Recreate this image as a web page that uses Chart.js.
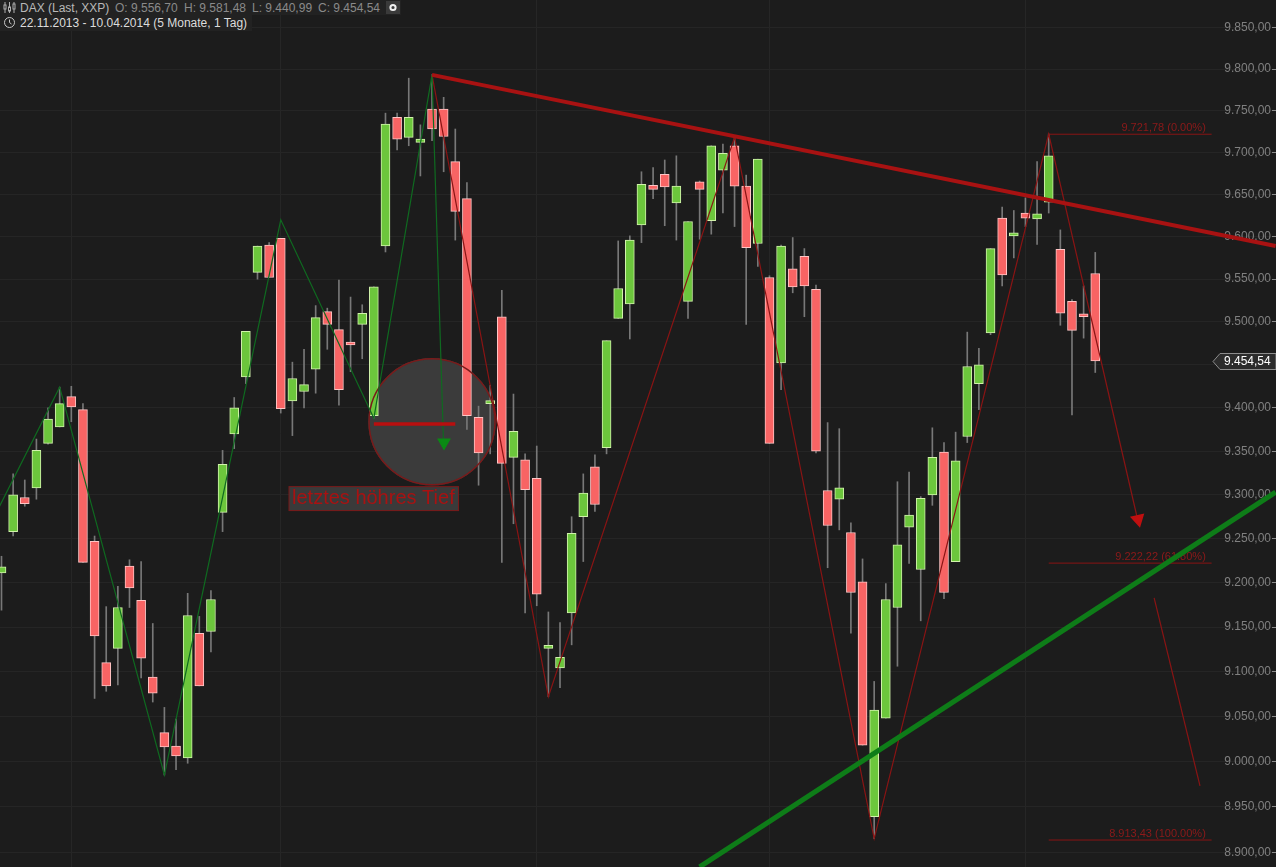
<!DOCTYPE html>
<html>
<head>
<meta charset="utf-8">
<title>DAX</title>
<script src="https://cdn.jsdelivr.net/npm/chart.js@4/dist/chart.umd.min.js"></script>
<style>
    html, body { margin: 0; padding: 0; background: #1c1c1c; overflow: hidden; }
    #wrap { position: relative; width: 1276px; height: 867px; font-family: "Liberation Sans", Arial, sans-serif; font-size: 12px; }
    #head1, #head2 { position: absolute; left: 0; background: #222222; white-space: nowrap; }
    #head1 { top: 0; width: 401px; height: 15px; }
    #head2 { top: 15px; width: 252px; height: 16px; color: #dcdcdc; }
    #head1 span, #head2 span { position: absolute; top: 1px; }
    .grey { color: #8a8a8a; }
    #head1 svg, #head2 svg { position: absolute; top: 1px; left: 3px; }
    #lastTag { position: absolute; left: 1212px; top: 352px; }
    #lastText { position: absolute; left: 1224px; top: 354px; color: #ffffff; }
</style>
</head>
<body>
<div id="wrap">
    <canvas id="daxChart"></canvas>
    <div id="head1">
        <svg width="13" height="13" viewBox="0 0 13 13" fill="none" stroke="#b0b0b0"><path d="M2 1v11M6.5 1v11M11 1v11"/><rect x="1" y="4" width="2" height="4" fill="#222"/><rect x="5.5" y="6" width="2" height="4" fill="#222"/><rect x="10" y="3" width="2" height="5" fill="#222"/></svg>
        <span style="left:20px;color:#b8b8b8">DAX (Last, XXP)</span>
        <span class="grey" style="left:115px">O: 9.556,70</span>
        <span class="grey" style="left:184px">H: 9.581,48</span>
        <span class="grey" style="left:252px">L: 9.440,99</span>
        <span class="grey" style="left:318px">C: 9.454,54</span>
        <svg style="left:386px;top:1px" width="14" height="13"><rect width="14" height="13" fill="#3a3a3a"/><circle cx="7" cy="6.5" r="2.6" fill="none" stroke="#f0f0f0" stroke-width="2"/></svg>
    </div>
    <div id="head2">
        <svg width="13" height="13" viewBox="0 0 13 13" fill="none" stroke="#c8c8c8"><circle cx="6.5" cy="6.5" r="5"/><path d="M6.5 3.5v3l2 1.5"/></svg>
        <span style="left:20px">22.11.2013 - 10.04.2014 (5 Monate, 1 Tag)</span>
    </div>
    <svg id="lastTag" width="64" height="19"><polygon points="1,9.5 8,1.5 64,1.5 64,17.5 8,17.5" fill="#2c2c2c" stroke="#8c8c8c"/></svg>
    <div id="lastText">9.454,54</div>
</div>
<script>
// daily candles
const opens = [9211,9258,9297,9308,9359,9378,9413,9398,9247,9110,9126,9219,9180,9094,9032,9017,9004,9143,9145,9280,
    9370,9436,9558,9590,9598,9408,9419,9445,9512,9491,9474,9497,9391,9589,9742,9718,9712,9752,9752,9689,
    9645,9389,9405,9506,9343,9340,9319,9126,9104,9166,9275,9332,9354,9504,9521,9614,9661,9674,9640,9524,
    9665,9619,9679,9708,9660,9592,9552,9452,9562,9577,9538,9305,9295,9257,9201,8939,9048,9172,9263,9215,
    9300,9349,9224,9367,9428,9487,9622,9601,9628,9621,9641,9585,9524,9507,9556.70];
const highs = [9230,9324,9317,9364,9400,9424,9425,9405,9253,9173,9196,9226,9224,9154,9060,9047,9188,9162,9191,9351,
    9412,9489,9589,9593,9598,9453,9468,9519,9516,9549,9529,9520,9541,9747,9747,9789,9733,9793,9766,9728,
    9664,9402,9426,9537,9416,9347,9356,9167,9155,9275,9324,9346,9478,9595,9601,9677,9682,9691,9696,9618,
    9666,9708,9710,9718,9673,9692,9554,9590,9599,9586,9543,9383,9376,9268,9227,9089,9199,9315,9326,9298,
    9377,9360,9372,9488,9469,9586,9635,9631,9646,9689,9722,9608,9526,9542,9581.48];
const lows = [9169,9253,9287,9295,9358,9378,9384,9223,9070,9078,9085,9172,9093,9066,8985,8991,8998,9084,9122,9258,
    9353,9428,9550,9552,9394,9368,9400,9417,9468,9403,9442,9457,9388,9582,9703,9708,9672,9714,9677,9596,
    9375,9311,9347,9223,9267,9166,9174,9072,9082,9130,9224,9281,9347,9504,9480,9593,9645,9613,9596,9504,
    9597,9603,9628,9612,9497,9565,9359,9421,9534,9506,9348,9217,9260,9143,9018,8915,9048,9106,9222,9157,
    9288,9182,9224,9360,9398,9485,9542,9575,9612,9591,9628,9496,9392,9481,9440.99];
const closes = [9218,9300,9290,9351,9387,9405,9401,9223,9140,9084,9172,9194,9115,9076,9016,9006,9163,9084,9181,9335,
    9400,9489,9589,9552,9399,9434,9427,9505,9497,9421,9473,9510,9541,9734,9716,9742,9716,9728,9719,9630,
    9391,9348,9406,9336,9373,9306,9187,9129,9116,9256,9302,9289,9478,9539,9596,9662,9656,9659,9660,9618,
    9656,9708,9699,9660,9587,9692,9359,9589,9541,9542,9350,9265,9308,9189,9018,9057,9181,9243,9277,9296,
    9343,9189,9339,9448,9450,9586,9555,9602,9622,9627,9696,9510,9490,9506,9454.54];

// month separators (candle number) and price axis
const monthStarts = [6, 24, 46, 66, 88];
const priceTicks = [8900,8950,9000,9050,9100,9150,9200,9250,9300,9350,9400,9450,9500,9550,9600,9650,9700,9750,9800,9850];
const priceLabels = ['8.900,00','8.950,00','9.000,00','9.050,00','9.100,00','9.150,00','9.200,00','9.250,00','9.300,00','9.350,00',
    '9.400,00','','9.500,00','9.550,00','9.600,00','9.650,00','9.700,00','9.750,00','9.800,00','9.850,00'];

// drawn analysis lines, as [candle number, price]
const greenZigzag = [[-1,9265],[5,9424],[14,8985],[24,9620],[32,9388],[37,9793],[38,9355]];
const redZigzag = [[37,9793],[47,9072],[63,9718],[75,8915],[90,9722],[97.76,9265]];
const redProjection = [[99.06,9183],[103,8973]];
const redTrend = [[37,9793],[109.5,9589]];
const greenTrend = [[60,8884],[109.5,9303]];
const lastHigherLow = [[32,9381.5],[39,9381.5]];
const fibLevels = [9721.78, 9222.22, 8913.43];
const fibLabels = ['9.721,78 (0.00%)', '9.222,22 (61.80%)', '8.913,43 (100.00%)'];

const GREEN = '#6cc63c', GREEN_EDGE = '#d2f3ac', RED = '#f86464', RED_EDGE = '#ffc6c6';
const THIN_RED = '#8a1414', THIN_GREEN = '#0f6a20';

const toPoints = arr => arr.map(p => ({ x: p[0], y: p[1] }));

function lineSet(points, color, width, order) {
    return {
        type: 'line', data: toPoints(points), borderColor: color, borderWidth: width,
        pointRadius: 0, tension: 0, clip: false, order: order
    };
}

function markerSet(x, y, style, radius, rotation, fill, edge, order) {
    return {
        type: 'scatter', data: [{ x: x, y: y }], pointStyle: style, pointRadius: radius, pointRotation: rotation,
        backgroundColor: fill, borderColor: edge, borderWidth: 1.5, clip: false, order: order
    };
}

const datasets = [
    markerSet(37, 9384, 'circle', 63, 0, '#3b3b3b', '#3b3b3b', 10),
    {
        type: 'bar', data: highs.map((h, i) => ({ x: i, y: [lows[i], h] })),
        backgroundColor: '#787878', barThickness: 1, order: 6
    },
    {
        type: 'bar', data: opens.map((o, i) => ({ x: i, y: [o, closes[i]] })),
        backgroundColor: opens.map((o, i) => closes[i] >= o ? GREEN : RED),
        borderColor: opens.map((o, i) => closes[i] >= o ? GREEN_EDGE : RED_EDGE),
        borderWidth: 1, borderSkipped: false, barThickness: 9, minBarLength: 3, order: 5
    },
    markerSet(37, 9384, 'circle', 63, 0, 'rgba(0,0,0,0)', '#7a1a1a', 4),
    lineSet(greenZigzag, THIN_GREEN, 1.2, 3),
    lineSet(redZigzag, THIN_RED, 1.2, 3),
    lineSet(redProjection, THIN_RED, 1.2, 3),
    lineSet([[90, fibLevels[0]], [104, fibLevels[0]]], THIN_RED, 1, 3),
    lineSet([[90, fibLevels[1]], [104, fibLevels[1]]], THIN_RED, 1, 3),
    lineSet([[90, fibLevels[2]], [104, fibLevels[2]]], THIN_RED, 1, 3),
    lineSet(redTrend, '#a81212', 4, 2),
    lineSet(greenTrend, '#0e7c18', 5, 2),
    lineSet(lastHigherLow, '#b80f0f', 3.5, 2),
    markerSet(38.03, 9360, 'triangle', 6.5, 180, '#0a8a14', '#0a8a14', 1),
    markerSet(97.68, 9272, 'triangle', 7, 167, '#c01010', '#c01010', 1)
];

// text that sits on the chart, anchored on the scales
const noteText = {
    id: 'noteText',
    beforeDatasetsDraw(chart) {
        const { ctx, scales: { x, y } } = chart;
        ctx.save();
        ctx.font = '11px "Liberation Sans", Arial, sans-serif';
        ctx.fillStyle = '#8e1a1a';
        ctx.textAlign = 'right';
        ctx.textBaseline = 'bottom';
        fibLevels.forEach((level, i) => {
            ctx.fillText(fibLabels[i], x.getPixelForValue(103.5), y.getPixelForValue(level) - 0.5);
        });
        const left = x.getPixelForValue(24.71), right = x.getPixelForValue(39.28);
        const top = y.getPixelForValue(9309.4), bottom = y.getPixelForValue(9282);
        ctx.fillStyle = '#3a3a3a';
        ctx.strokeStyle = '#7a1a1a';
        ctx.fillRect(left, top, right - left, bottom - top);
        ctx.strokeRect(left, top, right - left, bottom - top);
        ctx.font = '20px "Liberation Sans", Arial, sans-serif';
        ctx.fillStyle = '#a81212';
        ctx.textAlign = 'left';
        ctx.textBaseline = 'middle';
        ctx.fillText('letztes höhres Tief', left + 3, (top + bottom) / 2);
        ctx.restore();
    }
};

const daxChart = new Chart(document.getElementById('daxChart'), {
    type: 'bar',
    data: { datasets: datasets },
    plugins: [noteText],
    options: {
        responsive: true,
        maintainAspectRatio: false,
        animation: false,
        layout: { padding: 0, autoPadding: false },
        datasets: { bar: { grouped: false } },
        plugins: { legend: { display: false }, tooltip: { enabled: false } },
        scales: {
            x: {
                type: 'linear',
                min: -0.129,
                max: 109.19,
                offset: false,
                afterBuildTicks: scale => { scale.ticks = monthStarts.map(v => ({ value: v })); },
                grid: { offset: false, color: '#262626', drawTicks: false, tickLength: 0 },
                border: { display: false },
                ticks: { display: false, autoSkip: false }
            },
            y: {
                type: 'logarithmic',
                position: 'right',
                min: 8883.9,
                max: 9883.6,
                afterBuildTicks: scale => { scale.ticks = priceTicks.map(v => ({ value: v })); },
                afterFit: scale => {
                    // labels sit inside the plot, so no room is kept for them
                    scale.width = 4;
                    scale.paddingTop = 0;
                    scale.paddingBottom = 0;
                },
                grid: { color: '#252525', tickColor: '#8a8a8a', tickLength: 4 },
                border: { display: false },
                ticks: {
                    mirror: true,
                    padding: -1,
                    autoSkip: false,
                    color: '#808080',
                    font: { family: '"Liberation Sans", Arial, sans-serif', size: 12 },
                    callback: (value, i) => priceLabels[i]
                }
            }
        }
    }
});
</script>
</body>
</html>
